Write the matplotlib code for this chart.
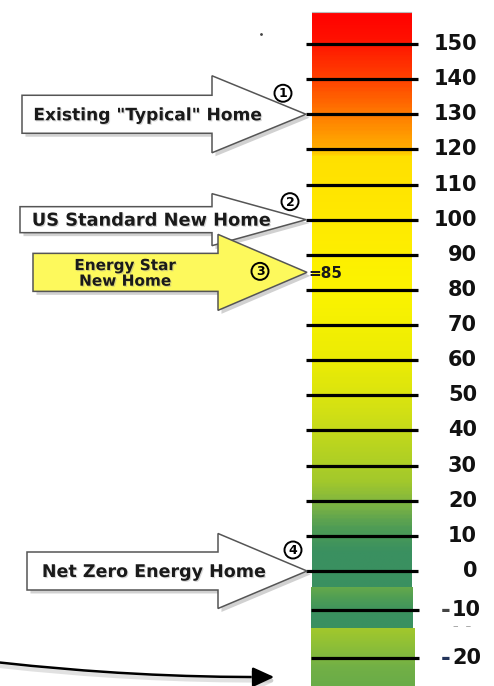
import matplotlib
matplotlib.use('Agg')
import matplotlib.pyplot as plt
import matplotlib.patheffects as pe
from matplotlib.colors import LinearSegmentedColormap, Normalize
from matplotlib.patches import Polygon, Circle, FancyArrowPatch
import numpy as np

# ── data ──────────────────────────────────────────────────────────────────────
tick_values = [150, 140, 130, 120, 110, 100, 90, 80, 70, 60, 50, 40, 30, 20, 10, 0]
low_tick_values = [-10, -20]
home_labels = ['Existing "Typical" Home', 'US Standard New Home',
               'Energy Star\nNew Home', 'Net Zero Energy Home']
home_numbers = ['1', '2', '3', '4']
home_scores = [130, 100, 85, 0]

# colour stops along the scale (value, colour)
stop_values = [-5, 5, 12, 18, 25, 35, 45, 60, 80, 100, 118, 121, 130, 140, 152, 160]
stop_colors = ['#3a9060', '#3a9060', '#4f9c55', '#7ab244', '#a2c82c', '#b8d420',
               '#d2e014', '#ecec04', '#fcf400', '#ffea00', '#ffe000', '#ffac00',
               '#ff7c00', '#ff4400', '#ff1000', '#ff0000']

W, H = 494, 686
PPU = 527 / 150            # pixels per unit on the main scale

fig = plt.figure(figsize=(W / 100, H / 100), dpi=100)

# main scale axes (y in score units)
ax = fig.add_axes([0, 0, 1, 1])
ax.set_xlim(0, W)
ax.set_ylim((571 - H) / PPU, 571 / PPU)
ax.axis('off')

# lower, stretched part of the scale (-10, -20)
low = fig.add_axes([0, 0, 1, 99 / H])
low.set_xlim(0, W)
low.set_ylim(-25.83, -5.21)
low.axis('off')
low.patch.set_alpha(0)

# overlay in pixel units for the arrows
bg = fig.add_axes([0, 0, 1, 1], zorder=3)
bg.set_xlim(0, W)
bg.set_ylim(H, 0)
bg.axis('off')
bg.patch.set_alpha(0)

# ── gradient bar ──────────────────────────────────────────────────────────────
norm = Normalize(stop_values[0], stop_values[-1])
cmap = LinearSegmentedColormap.from_list(
    'score', [(norm(v), c) for v, c in zip(stop_values, stop_colors)])
bar_top = (571 - 12) / PPU
bar_bot = (571 - 587) / PPU
grad = np.linspace(bar_top, bar_bot, 400).reshape(-1, 1)
ax.imshow(grad, cmap=cmap, norm=norm, aspect='auto',
          extent=[312, 411, bar_bot, bar_top], zorder=1)
ax.plot([312, 411], [bar_top, bar_top], color='#bbbbbb', lw=0.8, zorder=2)

TFS = 15
ax.hlines(tick_values, 306, 418, color='black', lw=2.3, zorder=3)
for v in tick_values:
    ax.text(477, v, str(v), ha='right', va='center', fontsize=TFS,
            fontweight='bold', color='#111111', zorder=3)

# lower segments
segA = LinearSegmentedColormap.from_list('a', ['#66aa4a', '#4c9c56', '#3a9060', '#3a9060'])
segB = LinearSegmentedColormap.from_list('b', ['#a2c82c', '#8cbe38', '#72b046', '#6aac48'])
yA = np.linspace(0, 1, 100).reshape(-1, 1)
low.imshow(yA, cmap=segA, aspect='auto', extent=[311, 412, -13.75, -5.21], zorder=1)
low.imshow(yA, cmap=segB, aspect='auto', extent=[311, 414, -25.83, -13.75], zorder=1)
low.hlines(low_tick_values, 311, 419, color='black', lw=2.3, zorder=3)
for v, dash in zip(low_tick_values, ['#444444', '#22335a']):
    low.text(450, v, '-', ha='right', va='center', fontsize=TFS + 2,
             fontweight='bold', color=dash, zorder=3)
    low.text(481, v, str(abs(v)), ha='right', va='center', fontsize=TFS,
             fontweight='bold', color='#111111', zorder=3)
low.text(462, -13.3, '–  –', ha='center', va='center', fontsize=8,
         color='#999999', zorder=3)

# ── arrows pointing at the scale ─────────────────────────────────────────────
def to_px(v):
    return H - ax.transData.transform((0, v))[1]

shapes = [  # tail x, head x, tip x, body half, head half, fill
    (22, 212, 306, 19, 38.5, 'white'),
    (20, 212, 306, 13, 26, 'white'),
    (33, 218, 307, 19, 38, '#fdf95c'),
    (27, 218, 307, 19, 37.5, 'white'),
]
label_x = [148, 151, 125, 154]
label_fs = [12.3, 12.8, 11, 12.6]
circle_pos = [(283, -21), (290, -18), (260, -1), (293, -21)]
shadow = [pe.SimplePatchShadow(offset=(2.5, -2.5), shadow_rgbFace='#999999', alpha=0.45),
          pe.Normal()]
tshadow = [pe.SimplePatchShadow(offset=(0.8, -0.8), shadow_rgbFace='#999999', alpha=0.4),
           pe.Normal()]

for i, (lab, num, score) in enumerate(zip(home_labels, home_numbers, home_scores)):
    tail, hx, tip, bh, hh, fill = shapes[i]
    yc = to_px(score)
    pts = [(tail, yc - bh), (hx, yc - bh), (hx, yc - hh), (tip, yc),
           (hx, yc + hh), (hx, yc + bh), (tail, yc + bh)]
    bg.add_patch(Polygon(pts, closed=True, facecolor=fill, edgecolor='#555555',
                         lw=1.1, zorder=2 + i, path_effects=shadow))
    bg.text(label_x[i], yc + 1, lab, ha='center', va='center', fontsize=label_fs[i],
            fontweight='bold', color='#1a1a1a', linespacing=1.05,
            zorder=2 + i, path_effects=tshadow)
    cx, dy = circle_pos[i]
    bg.add_patch(Circle((cx, yc + dy), 8.5, facecolor=fill if i == 2 else 'white',
                        edgecolor='black', lw=1.4, zorder=2 + i))
    bg.text(cx, yc + dy + 0.5, num, ha='center', va='center', fontsize=9,
            fontweight='bold', color='black', zorder=2 + i)

bg.text(308, to_px(85) + 1, '=85', ha='left', va='center', fontsize=11,
        fontweight='bold', color='#1a1a1a', zorder=6)
bg.plot([261], [34], marker='.', ms=2, color='#444444')

# curved pointer at the bottom
arr = FancyArrowPatch((-5, 662), (277, 677), connectionstyle='arc3,rad=0.03',
                      arrowstyle='-|>,head_length=13,head_width=6', color='black',
                      lw=1.8, mutation_scale=1, zorder=6,
                      path_effects=[pe.SimpleLineShadow(offset=(0, -2.5), shadow_color='#aaaaaa',
                                                        alpha=0.35, linewidth=3), pe.Normal()])
bg.add_patch(arr)

fig.savefig('out.png', dpi=100)
